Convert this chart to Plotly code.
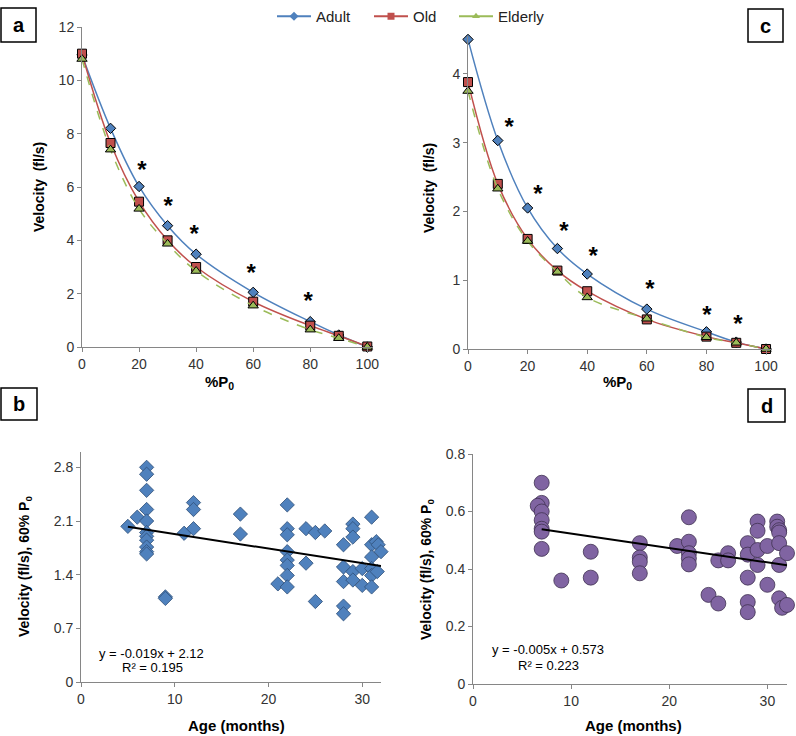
import plotly.graph_objects as go

# ---------------- data ----------------
pct_p0 = [0, 10, 20, 30, 40, 60, 80, 90, 100]
groups = ["Adult", "Old", "Elderly"]

# panel a
a_adult = [10.95, 8.2, 6.02, 4.55, 3.48, 2.05, 0.95, 0.45, 0.0]
a_old = [11.0, 7.65, 5.45, 4.0, 3.0, 1.7, 0.8, 0.42, 0.02]
a_elderly = [10.8, 7.4, 5.18, 3.87, 2.85, 1.55, 0.65, 0.33, 0.0]
a_star_x = [21, 30.2, 39.3, 59.3, 79.3]
a_star_y = [6.55, 5.2, 4.15, 2.7, 1.65]

# panel c
c_adult = [4.5, 3.03, 2.05, 1.46, 1.09, 0.58, 0.25, 0.1, 0.0]
c_old = [3.88, 2.4, 1.6, 1.14, 0.84, 0.43, 0.18, 0.09, 0.0]
c_elderly = [3.75, 2.33, 1.57, 1.12, 0.75, 0.44, 0.17, 0.09, 0.0]
c_star_x = [13.8, 23.5, 32.2, 42.0, 61.0, 80.2, 90.6]
c_star_y = [3.2, 2.22, 1.69, 1.32, 0.85, 0.47, 0.33]

# panel b (age vs velocity at 60% P0, fast)
b_age = [5, 6, 7, 7, 7, 7, 7, 7, 7, 7, 7, 7, 7, 9, 9, 11, 12, 12, 12, 17, 17,
         21, 22, 22, 22, 22, 22, 22, 22, 22, 24, 24, 25, 25, 26,
         28, 28, 28, 28, 28, 29, 29, 29, 29, 29, 30, 30,
         31, 31, 31, 31, 31, 31, 31.5, 31.7, 32, 31.6]
b_vel = [2.03, 2.15, 2.80, 2.71, 2.50, 2.25, 2.10, 1.95, 1.90, 1.85, 1.76, 1.70, 1.67, 1.11, 1.09, 1.94, 2.34, 2.25, 2.0, 2.19, 1.93,
         1.28, 2.31, 2.0, 1.92, 1.70, 1.59, 1.52, 1.39, 1.24, 2.0, 1.55, 1.95, 1.05, 1.97,
         1.79, 1.50, 1.31, 0.99, 0.89, 2.06, 2.0, 1.89, 1.44, 1.33, 1.48, 1.26,
         2.15, 1.79, 1.63, 1.48, 1.39, 1.24, 1.83, 1.79, 1.70, 1.44]
b_slope, b_intercept, b_r2 = -0.019, 2.12, 0.195
b_fit_x = [5, 32]

# panel d (age vs velocity at 60% P0, slow)
d_age = [7, 7, 6.6, 7, 7, 7, 7, 7, 9, 12, 12, 17, 17, 17, 17,
         20.8, 22, 22, 22, 22, 22, 24, 25, 25, 26, 26,
         28, 28, 28, 28, 28, 29, 29, 29, 29, 30, 30,
         31, 31, 31.2, 31.2, 31.2, 31.2, 31.2, 31.5, 32, 32]
d_vel = [0.70, 0.63, 0.62, 0.60, 0.57, 0.54, 0.53, 0.47, 0.36, 0.46, 0.37, 0.49, 0.44, 0.425, 0.385,
         0.48, 0.58, 0.495, 0.455, 0.437, 0.416, 0.31, 0.43, 0.28, 0.455, 0.43,
         0.49, 0.45, 0.37, 0.285, 0.25, 0.565, 0.533, 0.466, 0.414, 0.48, 0.345,
         0.565, 0.547, 0.535, 0.527, 0.49, 0.414, 0.298, 0.265, 0.455, 0.275]
d_slope, d_intercept, d_r2 = -0.005, 0.573, 0.223
d_fit_x = [7, 32]

# ---------------- styling ----------------
BLUE = "#4F81BD"
RED = "#C0504D"
GREEN = "#9BBB59"
PURPLE = "#8064A2"
AX = "#868686"
FONT = "Liberation Sans"
W, H = 796, 736

COLORS = [BLUE, RED, GREEN]
SYMBOLS = ["diamond", "square", "triangle-up"]
SIZES = [8, 9, 9]
DASHES = ["solid", "solid", "dash"]

fig = go.Figure()

def curves(x, series, xa, yax):
    for y, col, sym, sz, dash in zip(series, COLORS, SYMBOLS, SIZES, DASHES):
        fig.add_trace(go.Scatter(x=x, y=y, mode="lines+markers", cliponaxis=False,
                                 line=dict(color=col, width=1.5, dash=dash, shape="spline", smoothing=1.0),
                                 marker=dict(symbol=sym, size=sz, color=col, line=dict(color="#000", width=1)),
                                 xaxis=xa, yaxis=yax, showlegend=False))

curves(pct_p0, [a_adult, a_old, a_elderly], "x", "y")
curves(pct_p0, [c_adult, c_old, c_elderly], "x2", "y2")

# legend entries (one legend box per group, placed like the reference)
for name, col, sym, lg in zip(groups, COLORS, SYMBOLS, ["legend", "legend2", "legend3"]):
    fig.add_trace(go.Scatter(x=[None], y=[None], name=name, mode="lines+markers",
                             line=dict(color=col, width=2),
                             marker=dict(symbol=sym, size=7, color=col),
                             legend=lg, showlegend=True))

for sx, sy, xa, yax in [(a_star_x, a_star_y, "x", "y"), (c_star_x, c_star_y, "x2", "y2")]:
    fig.add_trace(go.Scatter(x=sx, y=sy, mode="text", text=["<b>*</b>"] * len(sx),
                             textfont=dict(family=FONT, size=24, color="#000"),
                             textposition="middle center", showlegend=False, cliponaxis=False,
                             xaxis=xa, yaxis=yax, hoverinfo="skip"))

fig.add_trace(go.Scatter(x=b_age, y=b_vel, mode="markers", showlegend=False, cliponaxis=False,
                         marker=dict(symbol="diamond", size=11, color=BLUE,
                                     line=dict(color="#2F4F77", width=0.8)),
                         xaxis="x3", yaxis="y3"))
fig.add_trace(go.Scatter(x=b_fit_x, y=[b_slope * v + b_intercept for v in b_fit_x],
                         mode="lines", showlegend=False, line=dict(color="#000", width=2), cliponaxis=False,
                         xaxis="x3", yaxis="y3"))

fig.add_trace(go.Scatter(x=d_age, y=d_vel, mode="markers", showlegend=False, cliponaxis=False,
                         marker=dict(symbol="circle", size=15, color=PURPLE,
                                     line=dict(color="#3F3151", width=0.8)),
                         xaxis="x4", yaxis="y4"))
fig.add_trace(go.Scatter(x=d_fit_x, y=[d_slope * v + d_intercept for v in d_fit_x],
                         mode="lines", showlegend=False, line=dict(color="#000", width=2), cliponaxis=False,
                         xaxis="x4", yaxis="y4"))

def px_x(p):
    return p / W

def px_y(p):
    return 1 - p / H

axis_common = dict(showline=True, linecolor=AX, linewidth=1, ticks="outside", ticklen=4,
                   tickcolor=AX, showgrid=False, zeroline=False, automargin=False,
                   tickfont=dict(family=FONT, size=14, color="#333"))

def leg(xpix):
    return dict(orientation="h", x=px_x(xpix), xanchor="left", y=1.0, yanchor="top",
                font=dict(family=FONT, size=15, color="#222"), bgcolor="rgba(0,0,0,0)",
                itemwidth=34, borderwidth=0)

fig.update_layout(
    width=W, height=H, margin=dict(l=0, r=0, t=0, b=0, autoexpand=False),
    paper_bgcolor="white", plot_bgcolor="white",
    font=dict(family=FONT, color="#000"),
    legend=leg(272), legend2=leg(369), legend3=leg(454),
    xaxis=dict(domain=[px_x(82), px_x(373)], range=[0, 102], tickvals=[0, 20, 40, 60, 80, 100],
               anchor="y", **axis_common),
    yaxis=dict(domain=[px_y(347), px_y(27)], range=[0, 12], dtick=2, anchor="x", **axis_common),
    xaxis2=dict(domain=[px_x(468), px_x(772)], range=[0, 102], tickvals=[0, 20, 40, 60, 80, 100],
                anchor="y2", **axis_common),
    yaxis2=dict(domain=[px_y(349), px_y(36)], range=[0, 4.55], dtick=1, anchor="x2", **axis_common),
    xaxis3=dict(domain=[px_x(81), px_x(381)], range=[0, 32], dtick=10, anchor="y3", **axis_common),
    yaxis3=dict(domain=[px_y(682), px_y(452)], range=[0, 3.0], tickvals=[0, 0.7, 1.4, 2.1, 2.8],
                ticktext=["0", "0.7", "1.4", "2.1", "2.8"], anchor="x3", **axis_common),
    xaxis4=dict(domain=[px_x(473), px_x(787)], range=[0, 32], dtick=10, anchor="y4", **axis_common),
    yaxis4=dict(domain=[px_y(684), px_y(454)], range=[0, 0.8],
                tickvals=[0, 0.2, 0.4, 0.6, 0.8], ticktext=["0", "0.2", "0.4", "0.6", "0.8"],
                anchor="x4", **axis_common),
)

ann = []
def text(x, y, s, size=13, bold=True, angle=0):
    ann.append(dict(x=px_x(x), y=px_y(y), xref="paper", yref="paper", text=(f"<b>{s}</b>" if bold else s),
                    showarrow=False, textangle=angle, xanchor="center", yanchor="middle",
                    font=dict(family=FONT, size=size, color="#000")))

text(220, 382, "%P<sub>0</sub>", 15)
text(617, 382, "%P<sub>0</sub>", 15)
text(39, 187, "Velocity  (fl/s)", 14, angle=-90)
text(429, 188, "Velocity  (fl/s)", 14, angle=-90)
text(25, 567, "Velocity (fl/s), 60% P<sub>0</sub>", 14, angle=-90)
text(427, 570, "Velocity (fl/s), 60% P<sub>0</sub>", 14, angle=-90)
text(236, 725, "Age (months)", 15)
text(633, 725, "Age (months)", 15)

text(151, 653, f"y = {b_slope}x + {b_intercept}", 13, bold=False)
text(152, 667, f"R² = {b_r2}", 13, bold=False)
text(548, 649, f"y = {d_slope}x + {d_intercept}", 13, bold=False)
text(548, 665, f"R² = {d_r2}", 13, bold=False)

shapes = []
for lab, x0, y0, x1, y1 in [("a", 1, 8, 36, 42), ("c", 748, 9, 783, 42),
                            ("b", 1, 388, 37, 420), ("d", 748, 389, 785, 422)]:
    shapes.append(dict(type="rect", xref="paper", yref="paper",
                       x0=px_x(x0), x1=px_x(x1), y0=px_y(y1), y1=px_y(y0),
                       line=dict(color="#000", width=1.5), fillcolor="white"))
    text((x0 + x1) / 2, (y0 + y1) / 2, lab, 20)

fig.update_layout(annotations=ann, shapes=shapes)
fig.write_html("out.html", config={"displayModeBar": False},
               post_script="document.body.style.margin='0px';document.body.style.overflow='hidden';")
